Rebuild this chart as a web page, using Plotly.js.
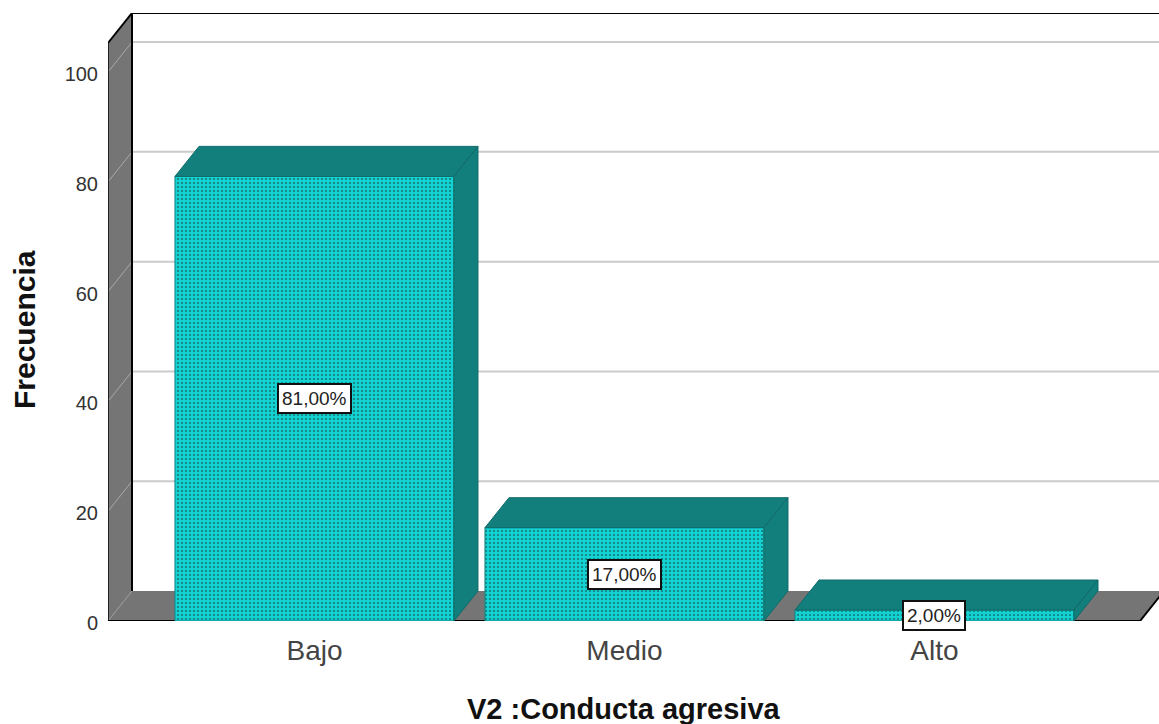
<!DOCTYPE html>
<html><head><meta charset="utf-8">
<script src="https://cdn.plot.ly/plotly-3.0.1.min.js"></script>
<style>html,body{margin:0;padding:0;background:#fff}#c{width:1159px;height:724px}</style>
</head><body><div id="c"></div>
<script>
const categories = ["Bajo", "Medio", "Alto"];
const frecuencia = [81, 17, 2];
const porcentajes = ["81,00%", "17,00%", "2,00%"];
const yTicks = [0, 20, 40, 60, 80, 100];
const xTitle = "V2 :Conducta agresiva";
const yTitle = "Frecuencia";

const FACE = "#14d2d2", DOT = "#137a7a", SIDE = "#137f7c", EDGE = "#0f6a68", WALL = "#757575", GRID = "#cbcbcb";
const barW = 0.9, dx = 24 / 310, dy = 30 / 5.49;
const xMin = -0.666, xMax = 2.7242, xFront = 2.6629, yTop = 105.3;
const idx = categories.map((_, i) => i);
const plotL = 108, plotW = 1051, plotT = 13, plotH = 608;

const traces = [{
  type: "bar", x: idx, y: frecuencia, width: barW, hoverinfo: "skip", showlegend: false,
  marker: { color: FACE, line: { color: "#10807f", width: 1 },
            pattern: { shape: ".", bgcolor: FACE, fgcolor: DOT, size: 4, solidity: 0.22, fillmode: "replace" } }
}];
idx.forEach(i => {
  const v = frecuencia[i], a = i - barW / 2, b = i + barW / 2;
  const face = (x, y) => ({ type: "scatter", mode: "lines", x, y, fill: "toself", fillcolor: SIDE,
    line: { color: EDGE, width: 1 }, hoverinfo: "skip", showlegend: false });
  traces.push(face([a, b, b + dx, a + dx, a], [v, v, v + dy, v + dy, v]));
  traces.push(face([b, b + dx, b + dx, b, b], [0, dy, v + dy, v, 0]));
});

const poly = (pts, extra) => Object.assign({ type: "path", layer: "below", xref: "x", yref: "y",
  path: "M" + pts.map(p => p.join(",")).join("L") + "Z" }, extra);
const seg = (x0, y0, x1, y1, color, width) => ({ type: "line", layer: "below", xref: "x", yref: "y", x0, y0, x1, y1, line: { color, width } });

const shapes = [
  poly([[xMin, 0], [xMin + dx, dy], [xMin + dx, yTop + dy], [xMin, yTop]], { fillcolor: WALL, line: { width: 0 } }),
  poly([[xMin, 0], [xFront, 0], [xFront + dx, dy], [xMin + dx, dy]], { fillcolor: WALL, line: { width: 0 } })
];
yTicks.filter(t => t > 0).forEach(t => {
  shapes.push(seg(xMin + dx, t + dy, xMax, t + dy, GRID, 2));
  shapes.push(seg(xMin, t, xMin + dx, t + dy, "#a8a8a8", 1));
});
shapes.push(seg(xMin, 0, xMin + dx, dy, "#9a9a9a", 1));
shapes.push(seg(xMin + dx, dy, xMin + dx, yTop + dy, "#000", 2));
shapes.push(seg(xMin + dx, yTop + dy, xMax, yTop + dy, "#000", 2));
shapes.push(seg(xMin, yTop, xMin + dx, yTop + dy, "#000", 2));
shapes.push(seg(xMin, 0, xMin, yTop, "#222", 2));
shapes.push(seg(xMin, 0, xFront, 0, "#000", 2));
shapes.push(seg(xFront, 0, xFront + dx, dy, "#000", 2));

const annotations = idx.map(i => ({
  x: i, y: frecuencia[i] / 2, xref: "x", yref: "y", text: porcentajes[i], showarrow: false,
  font: { family: "Liberation Sans", size: 19, color: "#222" },
  bgcolor: "#fff", bordercolor: "#111", borderwidth: 2, borderpad: 3
}));
annotations.push({
  xref: "paper", yref: "paper", x: (623.5 - plotL) / plotW, y: (plotT + plotH - 709) / plotH,
  xanchor: "center", yanchor: "middle", showarrow: false, text: "<b>" + xTitle + "</b>",
  font: { family: "Liberation Sans", size: 29, color: "#111" }
});
annotations.push({
  xref: "paper", yref: "paper", x: (25 - plotL) / plotW, y: (plotT + plotH - 330) / plotH,
  xanchor: "center", yanchor: "middle", textangle: -90, showarrow: false, text: "<b>" + yTitle + "</b>",
  font: { family: "Liberation Sans", size: 30, color: "#111" }
});

Plotly.newPlot("c", traces, {
  width: 1159, height: 724,
  margin: { l: plotL, r: 0, t: plotT, b: 103, pad: 0 },
  paper_bgcolor: "#fff", plot_bgcolor: "#fff", showlegend: false, hovermode: false,
  barmode: "overlay",
  xaxis: { range: [xMin, xMax], tickmode: "array", tickvals: idx, ticktext: categories,
    showgrid: false, zeroline: false, showline: false, ticks: "outside", ticklen: 4, tickcolor: "rgba(0,0,0,0)",
    tickfont: { family: "Liberation Sans", size: 28, color: "#444" } },
  yaxis: { range: [0, yTop + dy], tickmode: "array", tickvals: yTicks, ticktext: yTicks.map(String),
    showgrid: false, zeroline: false, showline: false, ticks: "outside", ticklen: 5, tickcolor: "rgba(0,0,0,0)",
    ticklabelshift: 2,
    tickfont: { family: "Liberation Sans", size: 20, color: "#333" } },
  shapes, annotations
}, { displayModeBar: false, staticPlot: true });
</script></body></html>
